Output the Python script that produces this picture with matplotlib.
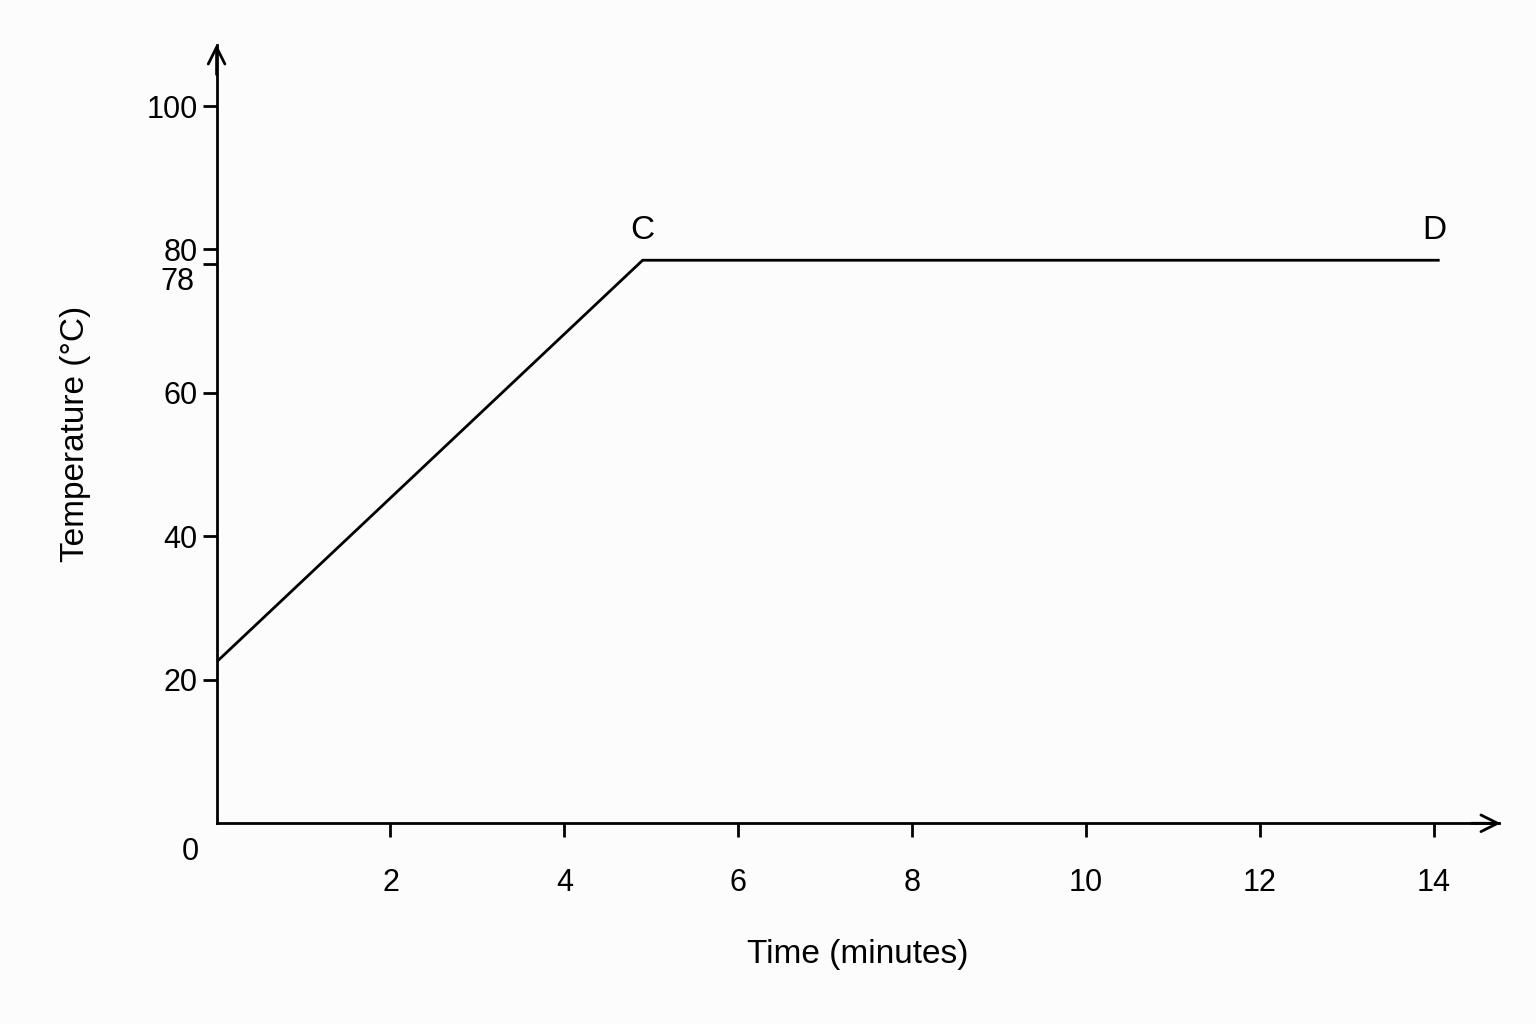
import matplotlib.pyplot as plt

time_min = [0, 4.9, 14.05]
temp_c = [22.5, 78.5, 78.5]
x_ticks = [2, 4, 6, 8, 10, 12, 14]
y_ticks = [20, 40, 60, 78, 80, 100]

plt.rcParams['font.family'] = 'Liberation Sans'
fig = plt.figure(figsize=(15.36, 10.24), dpi=100)
fig.patch.set_facecolor('#fdfcfc')
ax = fig.add_axes([0.141, 0.196, 0.835, 0.76])
ax.set_facecolor('#fdfcfc')

ax.plot(time_min, temp_c, color='black', lw=2)
ax.set_xlim(0, 14.75)
ax.set_ylim(0, 108.5)

for s in ['top', 'right']:
    ax.spines[s].set_visible(False)
for s in ['left', 'bottom']:
    ax.spines[s].set_linewidth(2)

ax.plot(1, 0, '>', color='black', transform=ax.get_yaxis_transform(), clip_on=False, ms=1)
ax.annotate('', xy=(14.8, 0), xytext=(14.4, 0),
            arrowprops=dict(arrowstyle='->', lw=2, mutation_scale=30), annotation_clip=False)
ax.annotate('', xy=(0, 109), xytext=(0, 104),
            arrowprops=dict(arrowstyle='->', lw=2, mutation_scale=30), annotation_clip=False)

ax.set_xticks(x_ticks)
ax.set_yticks(y_ticks)
ax.set_yticklabels(['20', '40', '60', '', '80', '100'])
ax.text(-0.25, 75.5, '78', ha='right', va='center', fontsize=22)
ax.tick_params(axis='both', labelsize=22, width=2, length=10, direction='out')
ax.tick_params(axis='x', pad=22)
ax.text(-0.2, -4, '0', ha='right', va='center', fontsize=22)

ax.text(4.9, 80.5, 'C', ha='center', va='bottom', fontsize=24)
ax.text(14.0, 80.5, 'D', ha='center', va='bottom', fontsize=24)

ax.set_xlabel('Time (minutes)', fontsize=24, labelpad=30)
ax.set_ylabel('Temperature (°C)', fontsize=24, labelpad=40)

fig.savefig('out.png', dpi=100, facecolor=fig.get_facecolor())
